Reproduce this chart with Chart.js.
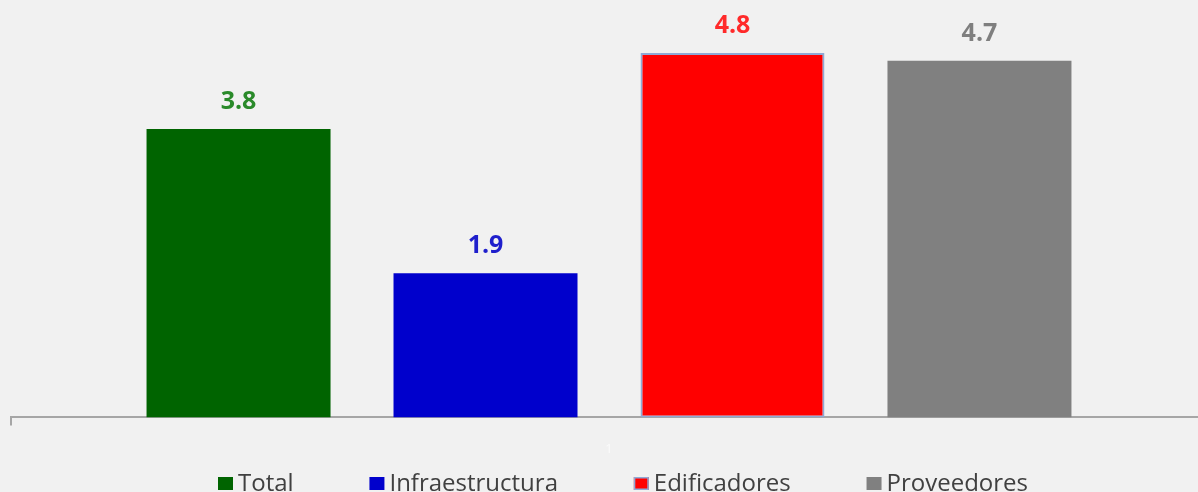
<!DOCTYPE html>
<html>
<head>
<meta charset="utf-8">
<script src="https://cdn.jsdelivr.net/npm/chart.js@4.4.1/dist/chart.umd.min.js"></script>
<style>
  html, body { margin: 0; padding: 0; background: #f1f1f1; overflow: hidden; }
  #wrap { width: 1198px; height: 492px; overflow: hidden; }
  canvas { display: block; }
</style>
</head>
<body>
<div id="wrap"><canvas id="c" width="1207" height="492"></canvas></div>
<script>
// Categories and series
const categories = ['1'];
const seriesNames = ['Total', 'Infraestructura', 'Edificadores', 'Proveedores'];
const total = [3.8];
const infraestructura = [1.9];
const edificadores = [4.8];
const proveedores = [4.7];

const barColors = ['#006400', '#0000cc', '#ff0000', '#808080'];
const labelColors = ['#2a8a2a', '#1f1fcc', '#ff2a2a', '#7f7f7f'];
const seriesValues = [total, infraestructura, edificadores, proveedores];

const datasets = seriesNames.map((name, i) => ({
  label: name,
  data: seriesValues[i],
  backgroundColor: barColors[i],
  borderColor: i === 2 ? '#8fa9d6' : barColors[i],
  borderWidth: i === 2 ? 2 : 0,
  borderSkipped: false,
  barPercentage: 0.745,
  categoryPercentage: 0.826,
  valueColor: labelColors[i]
}));

// Value labels above each bar, read from the bar elements
const valueLabels = {
  id: 'valueLabels',
  afterDatasetsDraw(chart) {
    const ctx = chart.ctx;
    ctx.save();
    ctx.font = 'bold 25px "Open Sans", sans-serif';
    ctx.textAlign = 'center';
    ctx.textBaseline = 'middle';
    chart.data.datasets.forEach((ds, di) => {
      const meta = chart.getDatasetMeta(di);
      meta.data.forEach((bar, j) => {
        ctx.fillStyle = ds.valueColor;
        ctx.fillText(ds.data[j].toFixed(1), bar.x, bar.y - 27);
      });
    });
    ctx.restore();
  }
};

// Bottom legend: square swatch + series name, spread across the row
const bottomLegend = {
  id: 'bottomLegend',
  afterDraw(chart) {
    const ctx = chart.ctx;
    const box = 15, boxH = 13, gapText = 5;
    const startX = 218, endX = 1028, baseY = 491;
    ctx.save();
    ctx.font = '24px "Open Sans", sans-serif';
    ctx.textBaseline = 'alphabetic';
    const items = chart.data.datasets.map(ds => ({
      label: ds.label,
      fill: ds.backgroundColor,
      stroke: ds.borderWidth ? ds.borderColor : null,
      w: box + gapText + ctx.measureText(ds.label).width
    }));
    const used = items.reduce((s, it) => s + it.w, 0);
    const gap = (endX - startX - used) / (items.length - 1);
    let x = startX;
    items.forEach(it => {
      ctx.fillStyle = it.fill;
      ctx.fillRect(x, baseY - boxH - 1, box, boxH);
      if (it.stroke) {
        ctx.strokeStyle = it.stroke;
        ctx.lineWidth = 1.5;
        ctx.strokeRect(x + 0.75, baseY - boxH - 0.25, box - 1.5, boxH - 1.5);
      }
      ctx.fillStyle = '#404040';
      ctx.fillText(it.label, x + box + gapText, baseY);
      x += it.w + gap;
    });
    ctx.restore();
  }
};

new Chart(document.getElementById('c'), {
  type: 'bar',
  data: { labels: categories, datasets },
  options: {
    responsive: false,
    animation: false,
    layout: { padding: { left: 11, right: 0, top: 0, bottom: 19 } },
    scales: {
      x: {
        offset: true,
        grid: { display: true, drawOnChartArea: false, tickLength: 8, color: '#a6a6a6', lineWidth: 2, offset: true },
        border: { display: true, color: '#a6a6a6', width: 2 },
        ticks: { color: '#fbfbfb', font: { family: 'Open Sans', size: 13 }, padding: 16 }
      },
      y: { display: false, min: 0, max: 5.5 }
    },
    plugins: {
      legend: { display: false },
      tooltip: { enabled: false }
    }
  },
  plugins: [valueLabels, bottomLegend]
});
</script>
</body>
</html>
